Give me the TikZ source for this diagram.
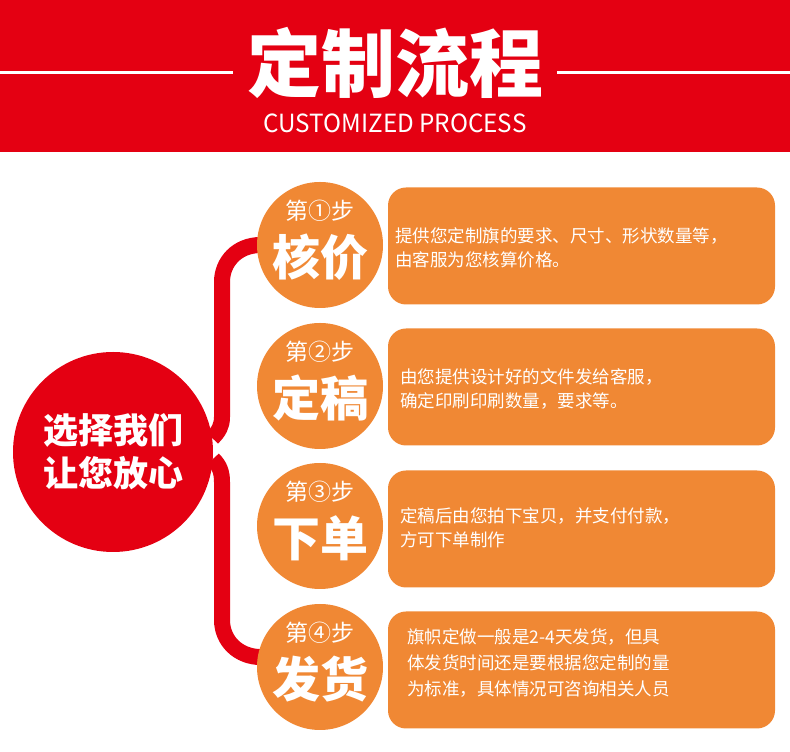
\documentclass[tikz,border=0pt]{standalone}
\usepackage{fontspec}
\newfontfamily\cjk{Noto Sans CJK SC}
\usetikzlibrary{positioning,backgrounds}
\definecolor{hdrred}{RGB}{228,0,18}
\definecolor{steporange}{RGB}{240,136,52}
\begin{document}
\begin{tikzpicture}[x=1pt,y=1pt,
	stepcirc/.style={circle,fill=steporange,minimum size=126pt,inner sep=0pt},
	infobox/.style={rectangle,rounded corners=18pt,fill=steporange,minimum width=387pt,minimum height=117pt,inner sep=0pt},
	stepno/.style={text=white,inner sep=0pt,font=\cjk\fontsize{23}{23}\selectfont},
	stepname/.style={text=white,inner sep=0pt,font=\cjk\bfseries\fontsize{48}{48}\selectfont},
	boxtext/.style={text=white,align=left,inner sep=0pt,font=\cjk\fontsize{17.5}{23.5}\selectfont},
	link/.style={draw=hdrred,line width=16pt}]
		\useasboundingbox (0,0) rectangle (790,752);
		% header
		\fill[hdrred] (0,600) rectangle (790,752);
		\node[text=white,inner sep=0pt,font=\cjk\bfseries\fontsize{74}{74}\selectfont] (title) at (395,689) {定制流程};
		\node[text=white,inner sep=0pt,font=\cjk\fontsize{25}{25}\selectfont,xscale=0.97] (subtitle) at (395,629) {CUSTOMIZED PROCESS};
		\coordinate (hl) at (0,679);
		\coordinate (hr) at (790,679);
		\draw[white,line width=3pt] (hl) -- ([xshift=-14pt]title.west |- hl);
		\draw[white,line width=3pt] ([xshift=14pt]title.east |- hr) -- (hr);
		% centre circle
		\node[circle,fill=hdrred,minimum size=200pt,inner sep=0pt] (choose) at (113,300) {};
		\node[text=white,align=center,inner sep=0pt,font=\cjk\bfseries\fontsize{35}{43}\selectfont] (choosetxt) at (choose) {选择我们\\让您放心};
		% steps
		\node[stepcirc] (s1) at (320,507) {};
		\node[stepno] (s1no) at ([yshift=34pt]s1.center) {第①步};
		\node[stepname] (s1name) at ([yshift=-12pt]s1.center) {核价};
		\node[stepcirc] (s2) at (320,366) {};
		\node[stepno] (s2no) at ([yshift=34pt]s2.center) {第②步};
		\node[stepname] (s2name) at ([yshift=-12pt]s2.center) {定稿};
		\node[stepcirc] (s3) at (320,226) {};
		\node[stepno] (s3no) at ([yshift=34pt]s3.center) {第③步};
		\node[stepname] (s3name) at ([yshift=-12pt]s3.center) {下单};
		\node[stepcirc] (s4) at (320,85) {};
		\node[stepno] (s4no) at ([yshift=34pt]s4.center) {第④步};
		\node[stepname] (s4name) at ([yshift=-12pt]s4.center) {发货};
		% boxes
		\node[infobox] (b1) at (581.5,506) {};
		\node[boxtext,right=7pt of b1.west,yshift=-2pt] (b1txt) {提供您定制旗的要求、尺寸、形状数量等，\\由客服为您核算价格。};
		\node[infobox] (b2) at (581.5,365) {};
		\node[boxtext,right=12pt of b2.west,yshift=-2pt] (b2txt) {由您提供设计好的文件发给客服，\\确定印刷印刷数量，要求等。};
		\node[infobox] (b3) at (581.5,223) {};
		\node[boxtext,right=12pt of b3.west,yshift=1pt] (b3txt) {定稿后由您拍下宝贝，并支付付款，\\方可下单制作};
		\node[infobox] (b4) at (581.5,82) {};
		\node[boxtext,font=\cjk\fontsize{17.5}{26}\selectfont,right=19pt of b4.west,yshift=7pt] (b4txt) {旗帜定做一般是2-4天发货，但具\\体发货时间还是要根据您定制的量\\为标准，具体情况可咨询相关人员};
		% links
		\begin{scope}[on background layer]
		\draw[link,shorten <=-4pt] (s1.west) to[out=180,in=90] (222,470) -- (222,335) to[out=-90,in=45] (choose.8);
		\draw[link,shorten >=-4pt] (choose.-4) to[out=-45,in=90] (222,270) -- (222,132) to[out=-90,in=180] (s4.171);
		\end{scope}
\end{tikzpicture}
\end{document}
